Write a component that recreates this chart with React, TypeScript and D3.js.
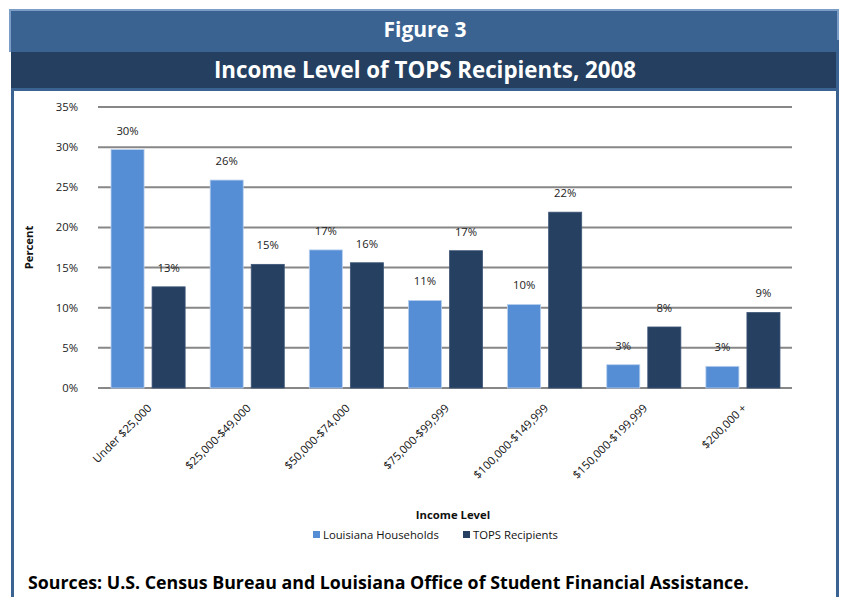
import React, { useEffect } from "react";
import * as d3 from "d3";

const categories = [
  "Under $25,000",
  "$25,000-$49,000",
  "$50,000-$74,000",
  "$75,000-$99,999",
  "$100,000-$149,999",
  "$150,000-$199,999",
  "$200,000 +",
];
const louisianaHouseholds = [29.7, 25.9, 17.2, 10.9, 10.4, 2.9, 2.7];
const topsRecipients = [12.6, 15.4, 15.6, 17.1, 21.9, 7.6, 9.4];
const louisianaLabels = ["30%", "26%", "17%", "11%", "10%", "3%", "3%"];
const topsLabels = ["13%", "15%", "16%", "17%", "22%", "8%", "9%"];
const yTicks = [0, 5, 10, 15, 20, 25, 30, 35];
const seriesNames = ["Louisiana Households", "TOPS Recipients"];

const W = 843;
const H = 597;
const FONT = "'Open Sans', Lato, sans-serif";
const LIGHT = "#558ed5";
const DARK = "#254061";
const FRAME = "#3a6392";
const BAND2 = "#243f60";
const SMALL = 11.3;

export default function App() {
  useEffect(() => {
    document.body.style.margin = "0";
  }, []);

  const plotLeft = 98;
  const plotRight = 792;
  const x = d3.scaleBand<string>().domain(categories).range([plotLeft, plotRight]).paddingInner(0).paddingOuter(0);
  const y = d3.scaleLinear().domain([0, 35]).range([388, 107]);
  const bw = x.bandwidth();
  const barW = bw * (33 / 99);
  const inner = d3
    .scaleBand<number>()
    .domain([0, 1])
    .range([bw * (13 / 99), bw * (13 / 99) + barW * 2 + bw * (8 / 99)])
    .paddingInner((bw * (8 / 99)) / (barW + bw * (8 / 99)));

  const series = [
    { values: louisianaHouseholds, labels: louisianaLabels, color: LIGHT },
    { values: topsRecipients, labels: topsLabels, color: DARK },
  ];

  return (
    <svg width={W} height={H} style={{ display: "block", background: "#fff" }} fontFamily={FONT}>
      {/* frame */}
      <rect x={9} y={9} width={830} height={43} fill="#7c9dc8" />
      <rect x={11} y={11} width={826} height={41} fill={FRAME} />
      <rect x={11} y={52} width={826} height={36} fill={BAND2} />
      <rect x={11} y={88} width={826} height={3} fill={FRAME} />
      <rect x={11} y={88} width={3} height={H - 88} fill={FRAME} />
      <rect x={836} y={40} width={3} height={H - 40} fill={FRAME} />
      <text x={425} y={37} textAnchor="middle" fill="#fff" fontWeight="bold" fontSize={21}>
        Figure 3
      </text>
      <text x={425} y={78} textAnchor="middle" fill="#fff" fontWeight="bold" fontSize={22.3}>
        Income Level of TOPS Recipients, 2008
      </text>

      {/* gridlines */}
      {yTicks.map((t) => (
        <g key={t}>
          <line x1={plotLeft} x2={plotRight} y1={y(t)} y2={y(t)} stroke="#878787" strokeWidth={2} />
          <text x={78} y={y(t)} dy="0.35em" textAnchor="end" fontSize={SMALL} fill="#222">
            {t}%
          </text>
        </g>
      ))}
      <text
        transform={`translate(33, ${(y(0) + y(35)) / 2}) rotate(-90)`}
        textAnchor="middle"
        fontWeight="bold"
        fontSize={SMALL}
        fill="#111"
      >
        Percent
      </text>

      {/* bars */}
      {categories.map((c, i) => (
        <g key={c} transform={`translate(${x(c)},0)`}>
          {series.map((s, k) => (
            <g key={k}>
              <rect
                x={inner(k)}
                y={y(s.values[i])}
                width={inner.bandwidth()}
                height={y(0) - y(s.values[i])}
                fill={s.color}
                stroke={k === 0 ? "#b9cfee" : "#3d5577"}
                strokeWidth={0.8}
              />
              <text
                x={(inner(k) as number) + inner.bandwidth() / 2}
                y={y(s.values[i]) - 19}
                dy="0.35em"
                textAnchor="middle"
                fontSize={SMALL}
                fill="#222"
              >
                {s.labels[i]}
              </text>
            </g>
          ))}
          <text
            transform={`translate(${bw / 2 + 2}, 406) rotate(-45)`}
            textAnchor="end"
            dy="0.35em"
            fontSize={SMALL}
            fill="#111"
          >
            {c}
          </text>
        </g>
      ))}

      {/* axis title */}
      <text x={453} y={515} dy="0.35em" textAnchor="middle" fontWeight="bold" fontSize={SMALL} fill="#111">
        Income Level
      </text>

      {/* legend */}
      {seriesNames.map((n, k) => {
        const lx = k === 0 ? 313 : 463;
        return (
          <g key={n}>
            <rect x={lx} y={531} width={7} height={7} fill={k === 0 ? LIGHT : DARK} />
            <text x={lx + 10} y={535} dy="0.35em" fontSize={SMALL} fill="#111">
              {n}
            </text>
          </g>
        );
      })}

      {/* footer */}
      <text x={28} y={589} fontWeight="bold" fontSize={17.8} fill="#000">
        Sources: U.S. Census Bureau and Louisiana Office of Student Financial Assistance.
      </text>
    </svg>
  );
}
